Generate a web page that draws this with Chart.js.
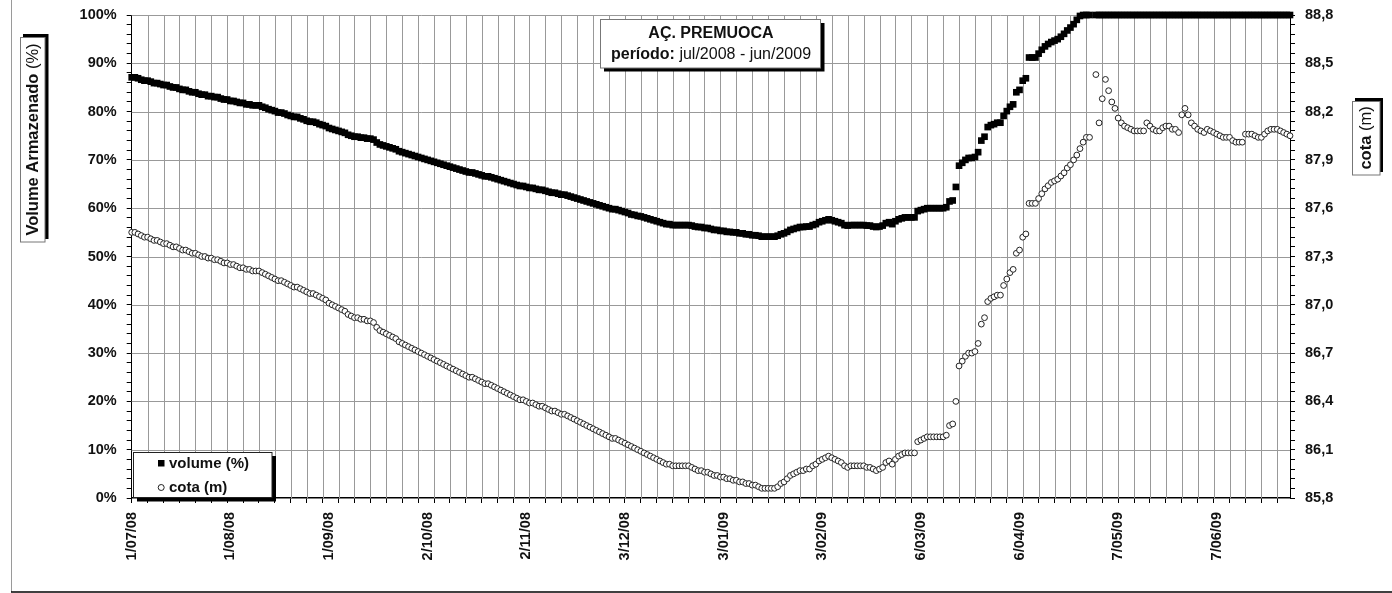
<!DOCTYPE html>
<html><head><meta charset="utf-8">
<script src="https://cdn.jsdelivr.net/npm/chart.js@4"></script>
<style>html,body{margin:0;padding:0;background:#fff;}</style>
</head><body>
<canvas id="c" width="1392" height="593"></canvas>
<script>
// ---------- data ----------
const startDate = [2008, 6, 1];     // 1 Jul 2008 (daily series)
const dayCount = 365;
const tickLabels = ['1/07/08','1/08/08','1/09/08','2/10/08','2/11/08','3/12/08','3/01/09','3/02/09','6/03/09','6/04/09','7/05/09','7/06/09'];

const volume = [
87.1,87.1,86.9,86.6,86.4,86.4,86.2,85.9,85.9,85.7,
85.5,85.5,85.2,85.0,85.0,84.7,84.5,84.5,84.2,84.0,
84.0,83.7,83.5,83.5,83.2,83.2,83.0,83.0,82.7,82.5,
82.5,82.2,82.2,82.0,81.8,81.8,81.5,81.5,81.3,81.3,
81.3,81.0,80.8,80.5,80.3,80.1,79.8,79.8,79.6,79.3,
79.1,78.9,78.9,78.6,78.4,78.1,77.9,77.9,77.7,77.4,
77.2,77.0,76.6,76.4,76.2,76.0,75.8,75.6,75.2,75.0,
74.8,74.8,74.6,74.6,74.4,74.4,74.2,73.6,73.2,73.0,
72.8,72.6,72.4,72.2,71.8,71.6,71.4,71.2,71.0,70.8,
70.6,70.4,70.2,70.0,69.8,69.6,69.4,69.2,69.0,68.8,
68.6,68.4,68.2,68.0,67.8,67.6,67.4,67.4,67.2,67.0,
66.8,66.6,66.6,66.4,66.2,66.0,65.8,65.6,65.4,65.2,
65.0,64.8,64.6,64.6,64.4,64.2,64.2,64.0,63.8,63.8,
63.6,63.4,63.2,63.2,63.0,62.8,62.8,62.6,62.4,62.2,
62.0,61.8,61.6,61.4,61.2,61.0,60.8,60.6,60.4,60.2,
60.0,59.8,59.8,59.6,59.4,59.2,59.0,58.7,58.6,58.4,
58.3,58.1,57.9,57.7,57.5,57.3,57.1,56.9,56.7,56.7,
56.5,56.5,56.5,56.5,56.5,56.5,56.4,56.2,56.1,56.1,
55.9,55.9,55.7,55.5,55.5,55.3,55.3,55.1,55.1,55.0,
55.0,54.8,54.8,54.6,54.6,54.4,54.4,54.3,54.1,54.1,
54.1,54.1,54.1,54.3,54.6,54.8,55.1,55.5,55.7,55.9,
56.1,56.1,56.2,56.2,56.5,56.7,57.1,57.3,57.5,57.7,
57.5,57.3,57.1,56.9,56.5,56.4,56.5,56.5,56.5,56.5,
56.5,56.4,56.4,56.2,56.1,56.2,56.4,56.9,57.1,56.7,
57.3,57.7,57.9,58.1,58.1,58.1,58.1,59.4,59.6,59.8,
60.0,60.0,60.0,60.0,60.0,60.0,60.2,61.4,61.6,64.4,
68.8,69.4,70.0,70.4,70.4,70.6,71.6,74.0,74.8,76.8,
77.2,77.4,77.7,77.7,79.1,80.1,81.0,81.5,84.0,84.5,
86.4,86.9,91.2,91.2,91.2,92.0,92.8,93.5,94.0,94.4,
94.7,95.0,95.5,96.1,96.8,97.4,98.1,99.0,99.8,100,
100,100,null,100,100,100,100,100,100,100,
100,100,100,100,100,100,100,100,100,100,
100,100,100,100,100,100,100,100,100,100,
100,100,100,100,100,100,100,100,100,100,
100,100,100,100,100,100,100,100,100,100,
100,100,100,100,100,100,100,100,100,100,
100,100,100,100,100
];

const cota = [
87.45,87.45,87.44,87.43,87.42,87.42,87.41,87.40,87.40,87.39,
87.38,87.38,87.37,87.36,87.36,87.35,87.34,87.34,87.33,87.32,
87.32,87.31,87.30,87.30,87.29,87.29,87.28,87.28,87.27,87.26,
87.26,87.25,87.25,87.24,87.23,87.23,87.22,87.22,87.21,87.21,
87.21,87.20,87.19,87.18,87.17,87.16,87.15,87.15,87.14,87.13,
87.12,87.11,87.11,87.10,87.09,87.08,87.07,87.07,87.06,87.05,
87.04,87.03,87.01,87.00,86.99,86.98,86.97,86.96,86.94,86.93,
86.92,86.92,86.91,86.91,86.90,86.90,86.89,86.86,86.84,86.83,
86.82,86.81,86.80,86.79,86.77,86.76,86.75,86.74,86.73,86.72,
86.71,86.70,86.69,86.68,86.67,86.66,86.65,86.64,86.63,86.62,
86.61,86.60,86.59,86.58,86.57,86.56,86.55,86.55,86.54,86.53,
86.52,86.51,86.51,86.50,86.49,86.48,86.47,86.46,86.45,86.44,
86.43,86.42,86.41,86.41,86.40,86.39,86.39,86.38,86.37,86.37,
86.36,86.35,86.34,86.34,86.33,86.32,86.32,86.31,86.30,86.29,
86.28,86.27,86.26,86.25,86.24,86.23,86.22,86.21,86.20,86.19,
86.18,86.17,86.17,86.16,86.15,86.14,86.13,86.12,86.11,86.10,
86.09,86.08,86.07,86.06,86.05,86.04,86.03,86.02,86.01,86.01,
86.00,86.00,86.00,86.00,86.00,86.00,85.99,85.98,85.97,85.97,
85.96,85.96,85.95,85.94,85.94,85.93,85.93,85.92,85.92,85.91,
85.91,85.90,85.90,85.89,85.89,85.88,85.88,85.87,85.86,85.86,
85.86,85.86,85.86,85.87,85.89,85.90,85.92,85.94,85.95,85.96,
85.97,85.97,85.98,85.98,86.00,86.01,86.03,86.04,86.05,86.06,
86.05,86.04,86.03,86.02,86.00,85.99,86.00,86.00,86.00,86.00,
86.00,85.99,85.99,85.98,85.97,85.98,85.99,86.02,86.03,86.01,
86.04,86.06,86.07,86.08,86.08,86.08,86.08,86.15,86.16,86.17,
86.18,86.18,86.18,86.18,86.18,86.18,86.19,86.25,86.26,86.40,
86.62,86.65,86.68,86.70,86.70,86.71,86.76,86.88,86.92,87.02,
87.04,87.05,87.06,87.06,87.12,87.16,87.20,87.22,87.32,87.34,
87.42,87.44,87.63,87.63,87.63,87.66,87.69,87.72,87.74,87.76,
87.77,87.78,87.80,87.82,87.85,87.87,87.90,87.93,87.97,88.01,
88.04,88.04,null,88.43,88.13,88.28,88.40,88.33,88.26,88.22,
88.16,88.13,88.11,88.10,88.09,88.08,88.08,88.08,88.08,88.13,
88.11,88.09,88.08,88.08,88.10,88.11,88.11,88.09,88.09,88.07,
88.18,88.22,88.18,88.13,88.11,88.09,88.08,88.07,88.09,88.08,
88.07,88.06,88.05,88.04,88.04,88.04,88.02,88.01,88.01,88.01,
88.06,88.06,88.06,88.05,88.04,88.04,88.06,88.08,88.09,88.09,
88.09,88.08,88.07,88.06,88.05
];

const leftAxis = { min: 0, max: 100, minorStep: 2, majorStep: 10 };
const rightAxis = { min: 85.8, max: 88.8, minorStep: 0.06, majorStep: 0.3 };
const gridEvery = 5;   // vertical grid line every 5 days

// ---------- categories ----------
const categories = [];
for (let i = 0; i < dayCount; i++) {
  const d = new Date(startDate[0], startDate[1], startDate[2] + i);
  const mm = String(d.getMonth() + 1).padStart(2, '0');
  const yy = String(d.getFullYear() % 100).padStart(2, '0');
  categories.push(d.getDate() + '/' + mm + '/' + yy);
}

const FONT = '"Liberation Sans", Arial, sans-serif';
const TXT = '#111';
const GRID = '#999999';

function stepValues(a) {
  const out = [];
  const n = Math.round((a.max - a.min) / a.minorStep);
  for (let k = 0; k <= n; k++) out.push(+(a.min + k * a.minorStep).toFixed(4));
  return out;
}
function isMajor(a, v) {
  const r = (v - a.min) / a.majorStep;
  return Math.abs(r - Math.round(r)) < 1e-6;
}

function richText(ctx, segs, cx, cy, rot) {
  ctx.save();
  ctx.translate(cx, cy);
  ctx.rotate(rot);
  let total = 0;
  segs.forEach(s => { ctx.font = s.font; s.w = ctx.measureText(s.t).width; total += s.w; });
  let x = -total / 2;
  ctx.textBaseline = 'middle';
  ctx.textAlign = 'left';
  ctx.fillStyle = TXT;
  segs.forEach(s => { ctx.font = s.font; ctx.fillText(s.t, x, 0); x += s.w; });
  ctx.restore();
}

// grid drawn through the chart's own scales
const gridPlugin = {
  id: 'gridPlugin',
  beforeDatasetsDraw(chart) {
    const {ctx, chartArea: a, scales} = chart;
    ctx.save();
    ctx.strokeStyle = GRID; ctx.lineWidth = 1;
    ctx.beginPath();
    for (let i = gridEvery; i < dayCount; i += gridEvery) {
      const x = Math.round(scales.x.getPixelForValue(i)) + 0.5;
      ctx.moveTo(x, a.top); ctx.lineTo(x, a.bottom);
    }
    stepValues(leftAxis).forEach(v => {
      if (v === leftAxis.min || !isMajor(leftAxis, v)) return;
      const y = Math.round(scales.y.getPixelForValue(v)) + 0.5;
      ctx.moveTo(a.left, y); ctx.lineTo(a.right, y);
    });
    ctx.stroke();
    ctx.restore();
  }
};

const decor = {
  id: 'decor',
  afterDraw(chart) {
    const ctx = chart.ctx;
    ctx.save();
    // outer chart frame fragments
    ctx.strokeStyle = '#9a9a9a'; ctx.lineWidth = 1;
    ctx.beginPath(); ctx.moveTo(11.5, 0); ctx.lineTo(11.5, 592); ctx.stroke();
    ctx.strokeStyle = '#000'; ctx.lineWidth = 1.5;
    ctx.beginPath(); ctx.moveTo(11, 592); ctx.lineTo(1392, 592); ctx.stroke();

    // title box
    ctx.fillStyle = '#000';
    ctx.fillRect(604, 23, 220.5, 48.5);
    ctx.fillStyle = '#fff';
    ctx.fillRect(600.5, 19.5, 220, 48.5);
    ctx.strokeStyle = '#777'; ctx.lineWidth = 1;
    ctx.strokeRect(600.5, 19.5, 220, 48.5);
    richText(ctx, [{t: 'AÇ. PREMUOCA', font: 'bold 16px ' + FONT}], 711, 33.5, 0);
    richText(ctx, [{t: 'período:', font: 'bold 16px ' + FONT}, {t: ' jul/2008 - jun/2009', font: '16px ' + FONT}], 711, 55, 0);

    // legend box
    ctx.fillStyle = '#000';
    ctx.fillRect(137, 456, 139, 45.5);
    ctx.fillStyle = '#fff';
    ctx.fillRect(133, 452, 139, 45.5);
    ctx.strokeStyle = '#222'; ctx.lineWidth = 1;
    ctx.strokeRect(133.5, 452.5, 138.5, 45);
    ctx.fillStyle = '#000';
    ctx.fillRect(158, 460, 6.5, 6.5);
    ctx.beginPath(); ctx.arc(161.2, 487.5, 3, 0, Math.PI * 2);
    ctx.fillStyle = '#fff'; ctx.fill(); ctx.strokeStyle = '#222'; ctx.stroke();
    ctx.fillStyle = TXT; ctx.font = 'bold 15px ' + FONT; ctx.textBaseline = 'middle'; ctx.textAlign = 'left';
    ctx.fillText('volume (%)', 169, 463.5);
    ctx.fillText('cota (m)', 169, 487.5);

    // left axis title box (rotated, shadow on top/right)
    ctx.fillStyle = '#000';
    ctx.fillRect(23, 34, 25.5, 205);
    ctx.fillStyle = '#fff';
    ctx.fillRect(20, 37, 25, 205);
    ctx.strokeStyle = '#777';
    ctx.strokeRect(20.5, 37.5, 24.5, 204.5);
    richText(ctx, [{t: 'Volume Armazenado', font: 'bold 16.5px ' + FONT}, {t: ' (%)', font: '16.5px ' + FONT}], 33, 139.5, -Math.PI / 2);

    // right axis title box
    ctx.fillStyle = '#000';
    ctx.fillRect(1355, 98, 28, 74);
    ctx.fillStyle = '#fff';
    ctx.fillRect(1352, 101, 28, 74);
    ctx.strokeStyle = '#777';
    ctx.strokeRect(1352.5, 101.5, 27.5, 73.5);
    richText(ctx, [{t: 'cota', font: 'bold 16.5px ' + FONT}, {t: ' (m)', font: '16.5px ' + FONT}], 1366, 138, -Math.PI / 2);
    ctx.restore();
  }
};

function noPad(s) { s.paddingTop = 0; s.paddingBottom = 0; s.paddingLeft = 0; s.paddingRight = 0; }

new Chart(document.getElementById('c'), {
  type: 'line',
  data: {
    labels: categories,
    datasets: [
      { label: 'volume (%)', data: volume, yAxisID: 'y', showLine: false,
        pointStyle: 'rect', pointRadius: 4.7, pointHoverRadius: 4.7,
        pointBackgroundColor: '#000', pointBorderColor: '#000', pointBorderWidth: 0, clip: false },
      { label: 'cota (m)', data: cota, yAxisID: 'y1', showLine: false,
        pointStyle: 'circle', pointRadius: 2.9, pointHoverRadius: 2.9,
        pointBackgroundColor: '#fff', pointBorderColor: '#222', pointBorderWidth: 1, clip: false }
    ]
  },
  options: {
    responsive: false, animation: false, devicePixelRatio: 1,
    layout: { padding: { top: 15, left: 0, right: 0, bottom: 0 } },
    plugins: { legend: { display: false }, tooltip: { enabled: false }, title: { display: false } },
    scales: {
      x: {
        type: 'category', offset: false,
        grid: {
          drawOnChartArea: false,
          color: c => (c.index % gridEvery === 0 ? '#000' : 'rgba(0,0,0,0)'),
          tickColor: c => (c.index % gridEvery === 0 ? '#000' : 'rgba(0,0,0,0)'),
          tickLength: 5, lineWidth: 1
        },
        border: { color: '#000', width: 1.5 },
        ticks: {
          autoSkip: false, maxRotation: 90, minRotation: 90, padding: 9,
          color: TXT, font: { family: FONT, size: 14.5, weight: 'bold' },
          callback: (v, i) => (tickLabels.includes(categories[i]) ? categories[i] : '')
        },
        afterFit: s => { s.height = 95; noPad(s); }
      },
      y: {
        position: 'left', min: leftAxis.min, max: leftAxis.max,
        afterBuildTicks: s => { s.ticks = stepValues(leftAxis).map(v => ({ value: v })); },
        grid: { drawOnChartArea: false, tickColor: '#000', tickLength: 5, lineWidth: 1 },
        border: { color: '#000', width: 1 },
        ticks: {
          autoSkip: false, padding: 10, color: TXT, font: { family: FONT, size: 14.5, weight: 'bold' },
          callback: v => (isMajor(leftAxis, v) ? Math.round(v) + '%' : '')
        },
        afterFit: s => { s.width = 131.7; noPad(s); }
      },
      y1: {
        position: 'right', min: rightAxis.min, max: rightAxis.max,
        afterBuildTicks: s => { s.ticks = stepValues(rightAxis).map(v => ({ value: v })); },
        grid: { drawOnChartArea: false, tickColor: '#000', tickLength: 5 },
        border: { color: '#000', width: 1 },
        ticks: {
          autoSkip: false, padding: 10, color: TXT, font: { family: FONT, size: 14.5, weight: 'bold' },
          callback: v => (isMajor(rightAxis, v) ? v.toFixed(1).replace('.', ',') : '')
        },
        afterFit: s => { s.width = 102; noPad(s); }
      }
    }
  },
  plugins: [gridPlugin, decor]
});
</script>
</body></html>
